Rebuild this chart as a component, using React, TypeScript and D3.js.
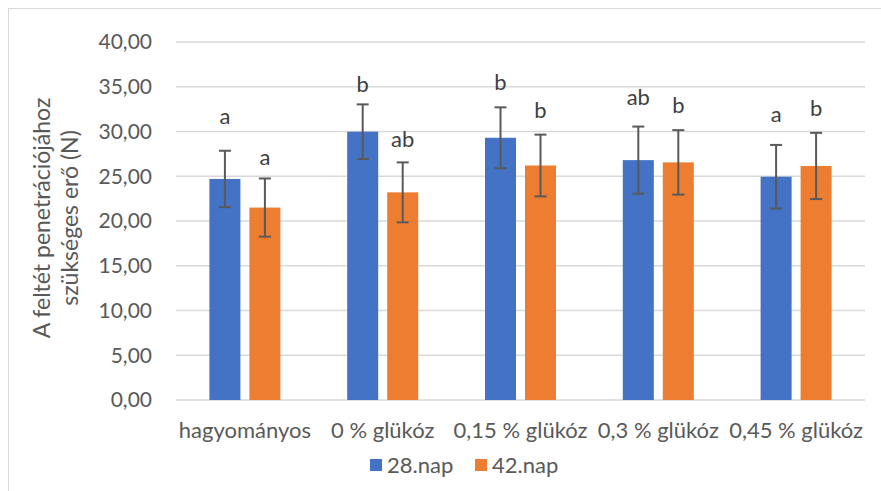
import React from "react";
import * as d3 from "d3";

// categories and series
const categories = ["hagyományos", "0 % glükóz", "0,15 % glükóz", "0,3 % glükóz", "0,45 % glükóz"];
const seriesNames = ["28.nap", "42.nap"];
const colors = ["#4472c4", "#ed7d31"];

// mean force (N) per category
const day28 = [24.7, 29.98, 29.3, 26.8, 24.95];
const day42 = [21.5, 23.2, 26.2, 26.55, 26.15];
// standard deviation
const sd28 = [3.15, 3.05, 3.4, 3.75, 3.55];
const sd42 = [3.25, 3.35, 3.45, 3.6, 3.7];
// significance letters and the height (N) where they sit
const letters28 = ["a", "b", "b", "ab", "a"];
const letters42 = ["a", "ab", "b", "b", "b"];
const letterAt28 = [30.84, 34.45, 34.6, 33.0, 31.1];
const letterAt42 = [26.26, 28.3, 31.47, 32.1, 31.7];

const yTicks = [0, 5, 10, 15, 20, 25, 30, 35, 40];

const W = 881;
const H = 491;
const font = "Lato, 'Open Sans', sans-serif";
const textColor = "#595959";

function App() {
    var x0 = d3.scaleBand().domain(categories).range([176, 865]);
    var x1 = d3.scaleBand().domain(seriesNames).range([0, x0.bandwidth()])
        .paddingInner(0.225).paddingOuter(0.835);
    var y = d3.scaleLinear().domain([0, 40]).range([400, 42]);
    var fmt = (v) => d3.format(".2f")(v).replace(".", ",");

    const series = [
        { name: seriesNames[0], values: day28, sd: sd28, letters: letters28, at: letterAt28, color: colors[0] },
        { name: seriesNames[1], values: day42, sd: sd42, letters: letters42, at: letterAt42, color: colors[1] },
    ];

    return (
        <svg width={W} height={H} style={{ position: "absolute", left: 0, top: 0, background: "#fff" }}>
            <rect x={8.5} y={8.5} width={900} height={600} fill="#fff" stroke="#d9d9d9" />

            {yTicks.map((t) => (
                <g key={t}>
                    <line x1={176} x2={865} y1={y(t)} y2={y(t)} stroke="#d9d9d9" strokeWidth={1.3} />
                    <text x={152} y={y(t)} dy="0.35em" textAnchor="end" fontFamily={font} fontSize={21} fill={textColor}>
                        {fmt(t)}
                    </text>
                </g>
            ))}

            <text transform="translate(50,218) rotate(-90)" textAnchor="middle" fontFamily={font} fontSize={23} fill={textColor}>
                A feltét penetrációjához
            </text>
            <text transform="translate(78,218) rotate(-90)" textAnchor="middle" fontFamily={font} fontSize={23} fill={textColor}>
                szükséges erő (N)
            </text>

            {series.map((s) =>
                categories.map((c, i) => {
                    const bx = x0(c) + x1(s.name);
                    const cx = bx + x1.bandwidth() / 2;
                    const top = y(s.values[i] + s.sd[i]);
                    const bot = y(s.values[i] - s.sd[i]);
                    return (
                        <g key={s.name + c}>
                            <rect x={bx} y={y(s.values[i])} width={x1.bandwidth()} height={y(0) - y(s.values[i])} fill={s.color} />
                            <line x1={cx} x2={cx} y1={top} y2={bot} stroke="#595959" strokeWidth={2} />
                            <line x1={cx - 6} x2={cx + 6} y1={top} y2={top} stroke="#595959" strokeWidth={2} />
                            <line x1={cx - 6} x2={cx + 6} y1={bot} y2={bot} stroke="#595959" strokeWidth={2} />
                            <text x={cx} y={y(s.at[i])} textAnchor="middle" fontFamily={font} fontSize={22} fill="#404040">
                                {s.letters[i]}
                            </text>
                        </g>
                    );
                })
            )}

            {categories.map((c) => (
                <text key={c} x={x0(c) + x0.bandwidth() / 2} y={438} textAnchor="middle" fontFamily={font} fontSize={22} fill={textColor}>
                    {c}
                </text>
            ))}

            {seriesNames.map((n, i) => (
                <g key={n} transform={`translate(${370 + i * 105},0)`}>
                    <rect x={0} y={459} width={12} height={12} fill={colors[i]} />
                    <text x={17} y={465} dy="0.35em" fontFamily={font} fontSize={22} fill={textColor}>
                        {n}
                    </text>
                </g>
            ))}
        </svg>
    );
}

export default App;
